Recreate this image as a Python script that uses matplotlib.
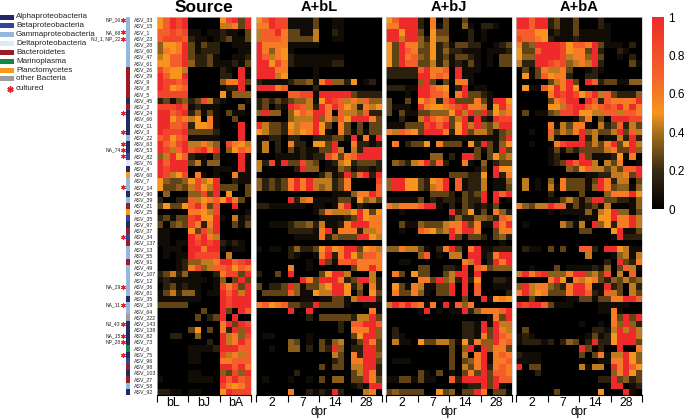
import numpy as np
import matplotlib
matplotlib.use("Agg")
import matplotlib.pyplot as plt
from matplotlib.colors import LinearSegmentedColormap, ListedColormap
from matplotlib.patches import Rectangle

plt.rcParams["font.family"] = ["Liberation Sans", "DejaVu Sans"]

W, H = 685, 420

ASV = ["33","15","1","23","28","60","47","61","26","29","9","8","5","45","2","24","66","11","3","22",
       "63","53","82","76","4","68","7","14","90","39","21","25","35","97","37","34","137","13","55","91",
       "49","107","12","36","81","35","19","64","222","143","138","82","73","6","75","96","98","103","27","58","92"]

TAXA = ["Alphaproteobacteria","Betaproteobacteria","Gammaproteobacteria","Deltaproteobacteria",
        "Bacteroidetes","Marinoplasma","Planctomycetes","other Bacteria"]
TAXA_COLORS = ["#232a63","#33459b","#93b7de","#deeaf6","#9c1c24","#108a43","#f79a1c","#9b9da1"]

# taxon index per row
ROW_TAXA = [2,2,2,2,2,2,2,2,4,4,4,4,4,0,4,0,0,0,0,2,
            0,0,1,3,0,6,2,2,0,2,4,6,1,0,4,1,4,2,2,4,
            2,2,2,2,2,0,2,2,7,0,0,0,0,5,0,1,4,0,4,2,0]

CULTURED = [0,2,3,15,18,20,21,22,27,35,43,46,49,51,52,54]
STRAINS = {0:"NP_16",2:"NA_68",3:"NJ_1, NP_22",21:"NA_74",43:"NA_29",46:"NA_11",49:"NJ_43",51:"NA_15",52:"NP_28"}

# cell shades, one character per cell, see LEVELS
LEVELS = {"0":0.0,"1":0.06,"2":0.15,"3":0.27,"4":0.35,"5":0.43,"6":0.5,"7":0.6,"8":0.72,"9":0.85,"A":1.0}

SOURCE = """
68A9A 00000 69A3A
68A9A 00000 5573A
88989 11011 21103
89998 21101 23113
4667A 31322 00111
4767A 31222 00011
5688A 32231 00112
6688A 42231 11213
97665 00000 210A1
A866A 00000 220A1
A9989 00000 477A3
A9678 00000 122A0
99999 00000 61444
23134 23952 10001
999A9 12111 00040
AA89A 24131 03110
AA687 56071 00300
AA889 26671 000A0
A999A 33332 000A0
89689 11111 000A0
A879A 55754 09765
A958A 89A7A 04687
45A68 21103 000A1
A8AAA 35144 000A1
A9AAA 00001 110A1
A9569 07101 00711
64334 6956A 00211
63343 5965A 33303
04000 4493A 06003
20022 85678 6A730
36336 8A739 00A00
00000 77659 00001
23133 9A66A 10512
30343 9727A 00313
11000 6395A 00000
11000 A8A75 00000
11011 A9A9A 21210
01110 AA7AA 10110
01011 A9999 05000
00012 44557 AA89A
00012 79458 89687
23524 11002 7993A
12111 11101 403A3
02312 11001 9793A
13524 41011 A8A5A
11111 11000 A9AAA
33333 00000 A9AAA
00000 00300 A30A8
00000 03023 A0A00
00000 00000 7A3A9
00000 36030 72A4A
00220 04000 A5749
00000 00020 A57A8
00000 11112 AAA88
00000 11000 95758
00000 11000 77888
00000 00000 AA8A7
00000 11000 4394A
10000 11110 A8A89
00000 00000 97679
22110 11000 6A999
"""

A_BL = """
68A99 11113 00110 00000
77A99 11113 00110 00000
588A7 33115 00210 00000
58887 33335 00110 00000
A7777 11111 00000 00000
A7476 10000 00000 00000
A8576 21111 11110 00000
AA697 21111 11220 00000
AAA77 00001 00000 00000
AAA56 00001 00000 00000
21111 23341 7A442 60120
AAA78 00002 00000 00000
00000 88991 AAAAA 32222
23232 34451 6A985 75844
23021 A9852 A7A86 52756
4A440 4687A A7085 54822
00000 4555A 47486 AAA73
A5332 6577A 63073 03033
65332 7567A 61073 13133
11220 22002 22331 A171A
15020 72206 63A00 72212
15020 31211 33A50 52AAA
00011 11212 29737 8AAAA
5291A 33943 01256 23332
50000 02A44 01143 12212
00000 00000 2412A 38A2A
42323 7A7A5 55237 00009
42323 7A7A5 45237 00008
00000 00000 00111 477A8
00000 A2571 11133 16453
22111 11101 1017A 02100
00000 00001 37555 6A636
00000 00000 11112 3A677
00111 23342 51127 AAA77
00000 22221 7A177 72557
00000 01111 72433 3AA65
00000 00000 00000 00000
10110 24223 6967A A3675
00000 21001 7A27A 64887
00000 00010 A3188 97777
00000 70010 00000 377A7
20030 A0000 36AA5 00050
00000 00A73 AAA72 3AA52
30223 A4133 56AA6 24072
03333 84116 55AA6 03063
00000 00110 11331 5AAA2
78678 3322A 33331 00111
00000 A00A0 00000 00071
00000 00020 33333 255A3
00000 00000 00020 88AA8
00000 00000 00020 777A4
01100 00010 00000 36AA4
00000 43010 31450 13A73
00100 44020 32A40 22AA3
00000 00000 00530 72AA4
00000 00000 00230 77AA3
00000 00000 30330 55AA2
00000 02000 00000 35A72
01000 10010 30440 33A73
00000 00000 00000 121AA
00000 70021 21A20 00570
"""

A_BJ = """
68AAA 20703 00300 00000
77AAA 20713 00410 22100
AA6AA 30633 00020 10000
AA5AA 42644 00020 10000
63A77 43623 13322 00123
63A87 33624 22111 01112
63A78 43623 13321 01033
63A88 33524 12131 01033
22222 8A778 0A111 00000
22222 AA787 0A110 00000
00000 4A303 07710 00000
22211 AA876 02A01 10000
00010 AA887 07A33 21000
30030 68728 A3337 31AA6
31110 A7667 89A77 516A7
30311 33444 6A5A4 A3657
00200 5A878 35A2A 21A99
11133 39A8A 36A5A 435AA
75876 3AAA7 26A35 53134
00000 00000 11111 1113A
07023 36073 33062 A3146
00000 00000 00003 131A3
00000 00440 20AA3 03645
04325 7A382 00710 40233
00000 00000 00001 30A66
00000 00000 33322 60A27
4AA66 3267A 08122 50114
4AA66 3257A 08122 50113
00000 00333 20323 A0A8A
11111 30212 21322 A0A01
75777 8AA10 20321 21300
00100 00000 A2361 30742
00000 00000 24224 43287
00311 43335 77A37 11A7A
00100 87645 A7AA7 00377
00000 00000 A3133 20342
00000 00000 00000 00010
44755 31027 A307A 11222
00000 48010 550AA 127AA
00110 00000 0075A 02A7A
00000 33002 21A18 73444
07306 33003 5AA1A 00000
00000 773A4 52A26 00221
06317 51133 A0A08 00111
07337 41033 A0A08 00002
00000 00000 00300 A1676
5A8A8 7170A 18470 00000
00000 1A010 11A24 7778A
00000 00000 00000 0173A
00000 00000 00221 A1A55
02000 00000 00221 A3A75
02100 00000 00221 73A87
05110 63355 31627 44A78
00000 00000 304A1 A4773
00000 00000 30507 A1787
01110 00000 30347 A1778
00000 00000 30537 A2787
00000 31030 10373 A3887
11331 31100 82AAA A3A88
00000 00000 00122 A3A10
34333 30063 4033A 70331
"""

A_BA = """
AA8AA 23113 00020 00000
AA8AA 23113 00021 00000
88866 12113 11111 00000
98876 21112 11111 00000
734AA AA968 87A31 11020
6338A AA967 73A20 02100
644AA AA957 74A30 01020
522AA 98945 75A20 00031
03137 55730 01210 00000
06138 67720 02200 00000
00000 357A3 0A823 31144
06118 6A7A6 00000 00000
00000 7A9A9 68A58 32224
00000 378AA 0A828 7777A
00000 6659A A8789 8A7A7
03011 3499A 66558 85887
00000 00001 37030 AAA99
00000 71537 71052 38253
00100 83547 A4533 5A385
00000 51000 A2501 152A2
00100 079AA A3537 A36A5
00000 13132 33335 733A4
00000 12000 A3111 26170
00000 123A8 AA505 37001
00000 00043 68553 5388A
00000 00000 01122 5573A
05010 40733 313A7 25503
05010 51733 314A7 34414
00000 20000 30004 777A6
00000 11353 13AA3 32214
74355 A8813 12315 00014
00000 10111 14156 A4413
00000 00000 11166 A77A5
01000 00531 50A46 277A5
00000 00000 33000 6A113
00000 00000 00000 1A222
00000 00000 00000 00000
02110 30300 8820A A6511
00000 00000 05000 14515
00000 00000 00002 0A327
00100 03011 11214 03851
5A79A 4447A A4539 05080
00000 7A617 56732 43534
4A577 4327A A711A 23052
7A567 3337A A8218 53053
11310 00011 33133 77AA8
A9AA8 31110 00011 11100
00000 00000 00011 71000
00000 00000 00000 73A3A
00000 00000 10010 74A42
03000 00000 00221 5A5A5
12100 00000 01312 6AAA5
12221 20243 02A22 6AAA3
00000 00000 A3020 0A007
21110 00000 30371 55A64
11110 00000 00011 77A64
A0330 00000 51550 A7A86
00020 00000 00000 47A63
00000 00000 00022 A3423
00000 00000 00000 AA012
00000 03000 00060 00A10
"""


def parse(block, n):
    out = []
    for line in block.strip().splitlines():
        s = line.replace(" ", "")[:n].ljust(n, "0")
        out.append([LEVELS[c] for c in s])
    return np.array(out)


cmap = LinearSegmentedColormap.from_list("hm", [(0, "#000000"), (0.2, "#3a2a12"), (0.4, "#a8701e"),
                                                (0.5, "#f7941d"), (0.7, "#f4622a"), (1, "#ee2a2a")])


def px_axes(fig, x0, y0, x1, y1):
    return fig.add_axes([x0 / W, 1 - y1 / H, (x1 - x0) / W, (y1 - y0) / H])


fig = plt.figure(figsize=(W / 100, H / 100), dpi=100, facecolor="white")

TOP, BOT = 17, 395
panels = [("Source", SOURCE, 157, 251, 15, ["bL", "bJ", "bA"], 12.5),
          ("A+bL", A_BL, 256, 382, 20, ["2", "7", "14", "28"], 10.5),
          ("A+bJ", A_BJ, 386, 512, 20, ["2", "7", "14", "28"], 10.5),
          ("A+bA", A_BA, 516, 642, 20, ["2", "7", "14", "28"], 10.5)]

for title, block, x0, x1, ncol, groups, tsize in panels:
    ax = px_axes(fig, x0, TOP, x1, BOT)
    vals = parse(block, ncol)
    im = ax.pcolormesh(vals, cmap=cmap, vmin=0, vmax=1)
    ax.set_xlim(0, ncol)
    ax.set_ylim(61, 0)
    ax.set_yticks([])
    step = ncol / len(groups)
    ax.set_xticks(np.arange(len(groups) + 1) * step)
    ax.set_xticklabels([])
    ax.tick_params(axis="x", length=5, width=0.8, color="black")
    for sp in ("top", "left", "right"):
        ax.spines[sp].set_edgecolor("#c8c8c8")
        ax.spines[sp].set_linewidth(0.5)
    ax.spines["bottom"].set_linewidth(0.8)
    cx = (x0 + x1) / 2
    fig.text(cx / W, 1 - 7 / H, title, fontsize=tsize, fontweight="bold", ha="center", va="center")
    for i, g in enumerate(groups):
        gx = x0 + (x1 - x0) * (i + 0.5) / len(groups)
        fig.text(gx / W, 1 - 403 / H, g, fontsize=8.8, ha="center", va="center")
    if title != "Source":
        fig.text(cx / W, 1 - 412.5 / H, "dpr", fontsize=8.5, ha="center", va="center")

# taxon strip
strip = px_axes(fig, 125.5, TOP, 130, BOT)
strip.pcolormesh(np.array(ROW_TAXA).reshape(-1, 1), cmap=ListedColormap(TAXA_COLORS), vmin=-0.5, vmax=7.5)
strip.set_ylim(61, 0)
strip.axis("off")

# row labels, strains and cultured stars
side = px_axes(fig, 0, TOP, 157, BOT)
side.set_xlim(0, 157)
side.set_ylim(61, 0)
side.axis("off")
side.patch.set_alpha(0)
for i, name in enumerate(ASV):
    side.text(134, i + 0.5, "ASV_" + name, fontsize=3.8, ha="left", va="center", color="#222222")
for i in CULTURED:
    side.plot(123, i + 0.5, marker=(6, 2, 0), ms=3.2, color="#e8202a", mew=0.8, ls="none")
for i, s in STRAINS.items():
    side.text(120.5, i + 0.5, s, fontsize=3.6, ha="right", va="center", color="#222222")

# legend
leg = fig.add_axes([0, 0, 1, 1])
leg.set_xlim(0, W)
leg.set_ylim(H, 0)
leg.axis("off")
leg.patch.set_alpha(0)
for i, (name, col) in enumerate(zip(TAXA, TAXA_COLORS)):
    y = 17 + i * 8.85
    leg.add_patch(Rectangle((0, y - 2.5), 14, 5, color=col, lw=0))
    leg.text(16, y, name, fontsize=5.75, ha="left", va="center", color="#222222")
leg.plot(10, 88.5, marker=(6, 2, 0), ms=4.5, color="#e8202a", mew=1.1, ls="none")
leg.text(16, 88, "cultured", fontsize=5.75, ha="left", va="center", color="#222222")

# colorbar
cax = px_axes(fig, 652, 17, 664, 209)
cb = fig.colorbar(im, cax=cax)
cb.set_ticks([0, 0.2, 0.4, 0.6, 0.8, 1])
cb.set_ticklabels(["0", "0.2", "0.4", "0.6", "0.8", "1"])
cb.ax.tick_params(length=0, labelsize=8.5, pad=3)
cb.outline.set_visible(False)

fig.savefig("out.png", dpi=100)
